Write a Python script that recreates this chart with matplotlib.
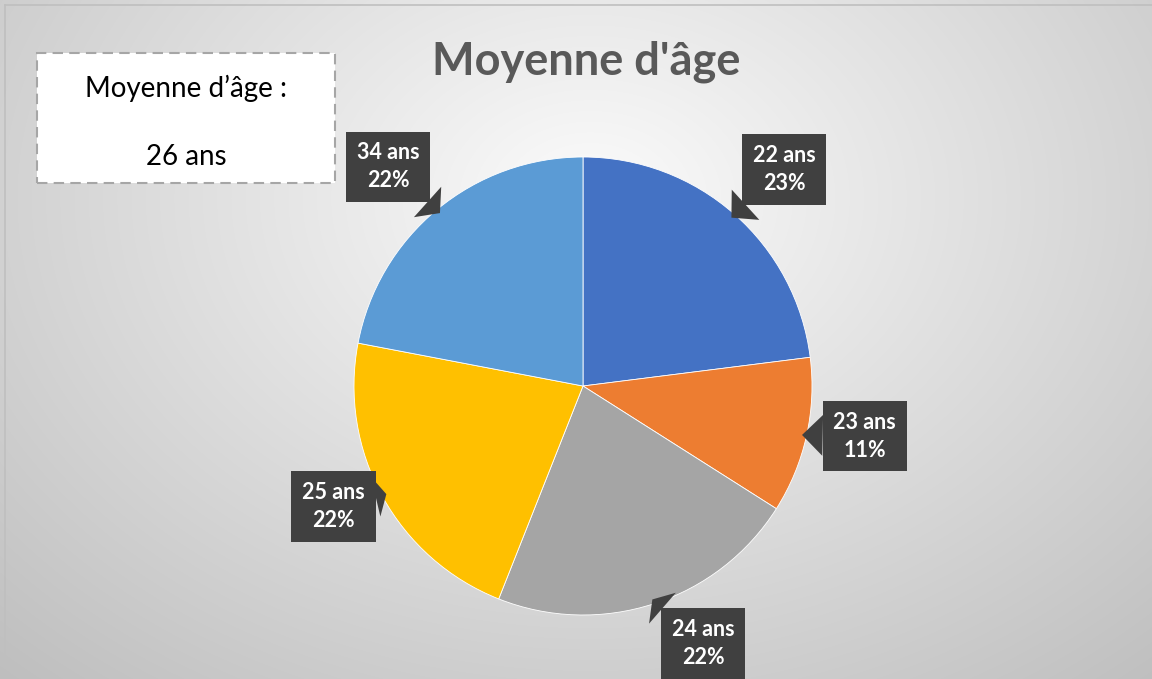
import numpy as np
import matplotlib
matplotlib.use("Agg")
import matplotlib.pyplot as plt

# data
ages = ["22 ans", "23 ans", "24 ans", "25 ans", "34 ans"]
parts = [23, 11, 22, 22, 22]
colors = ["#4472C4", "#ED7D31", "#A5A5A5", "#FFC000", "#5B9BD5"]
mean_label = "Moyenne d\u2019âge :"
mean_value = "26 ans"
title = "Moyenne d'âge"

# label placement tweaks (angle shift in degrees, distance in radii)
label_shift = [-1.5, 2.5, 7.0, -3.0, 2.0]
label_dist = [1.29, 1.25, 1.24, 1.21, 1.28]

W, H = 1152, 679
fig = plt.figure(figsize=(W / 100, H / 100), dpi=100)
ax = fig.add_axes([0, 0, 1, 1])

# radial grey background
yy, xx = np.mgrid[0:H, 0:W]
d = np.sqrt(((xx - 590) / 800.0) ** 2 + ((yy - 480) / 600.0) ** 2)
shade = 0.985 - 0.22 * np.clip(d, 0, 1.2)
bg = np.dstack([shade] * 3)
ax.imshow(bg, extent=[0, W, 0, H], origin="lower", zorder=0)

# frame lines (top/left)
ax.plot([5, W], [H - 5, H - 5], color="#bfbfbf", lw=1.2, zorder=1)
ax.plot([5, 5], [0, H - 5], color="#bfbfbf", lw=1.2, zorder=1)

cx, cy, r = 583, H - 386, 229
wedges, _ = ax.pie(parts, colors=colors, startangle=90, counterclock=False,
                   center=(cx, cy), radius=r, frame=True,
                   wedgeprops=dict(edgecolor="white", linewidth=0.6))
ax.set_xlim(0, W)
ax.set_ylim(0, H)
ax.set_aspect("equal")
ax.axis("off")

# callout labels
for w, a, p, s, k in zip(wedges, ages, parts, label_shift, label_dist):
    mid = np.deg2rad((w.theta1 + w.theta2) / 2)
    tip = (cx + r * 0.98 * np.cos(mid), cy + r * 0.98 * np.sin(mid))
    ang = mid + np.deg2rad(s)
    pos = (cx + r * k * np.cos(ang), cy + r * k * np.sin(ang))
    ax.annotate(f"{a}\n{p}%", xy=tip, xytext=pos, ha="center", va="center",
                fontsize=15.5, fontweight="bold", family="Lato", color="white",
                linespacing=1.4, zorder=5,
                bbox=dict(boxstyle="square,pad=0.5", fc="#404040", ec="none"),
                arrowprops=dict(arrowstyle="wedge,tail_width=1.9,shrink_factor=0.5",
                                fc="#404040", ec="none", shrinkA=0, shrinkB=0))

ax.text(586, H - 62, title, ha="center", va="center", fontsize=32.5,
        fontweight="bold", family="Lato", color="#595959", zorder=5)

# dashed info box
box = plt.Rectangle((37, H - 183), 298, 130, fc="white", ec="#a6a6a6",
                    lw=1.5, ls=(0, (5, 3)), zorder=4)
ax.add_patch(box)
ax.text(186, H - 88, mean_label, ha="center", va="center", fontsize=20,
        family="Lato", color="black", zorder=5)
ax.text(186, H - 157, mean_value, ha="center", va="center", fontsize=20,
        family="Lato", color="black", zorder=5)

fig.savefig("out.png", dpi=100)
